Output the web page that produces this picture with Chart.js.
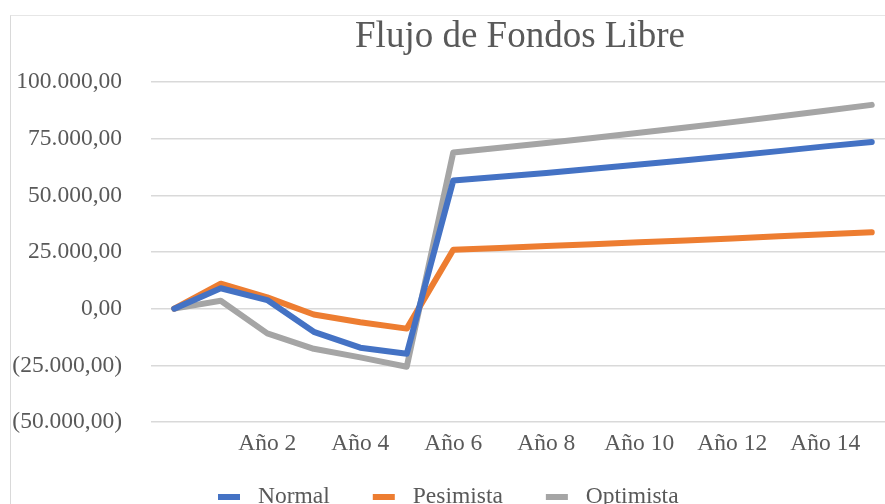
<!DOCTYPE html>
<html lang="es">
<head>
<meta charset="UTF-8">
<title>Flujo de Fondos Libre</title>
<script src="https://cdn.jsdelivr.net/npm/chart.js@4.4.1/dist/chart.umd.min.js"></script>
<style>
  html, body { margin: 0; padding: 0; background: #fff; overflow: hidden; }
  .frame {
    position: absolute; left: 10px; top: 15px;
    width: 1022px; height: 520px;
    border-left: 1px solid #d9d9d9; border-top: 1px solid #e6e6e6;
  }
  canvas { display: block; }
</style>
</head>
<body>
<div class="frame">
  <canvas id="chart" width="1022" height="520"></canvas>
</div>
<script>
  const years = ['', 'Año 1', 'Año 2', 'Año 3', 'Año 4', 'Año 5', 'Año 6', 'Año 7',
    'Año 8', 'Año 9', 'Año 10', 'Año 11', 'Año 12', 'Año 13', 'Año 14', 'Año 15'];

  const normal = [0, 9000, 3800, -10200, -17200, -19900, 56500, 58200, 59900,
    61700, 63600, 65500, 67500, 69500, 71600, 73500];
  const pesimista = [0, 11000, 5000, -2600, -6000, -8800, 26000, 26800, 27600,
    28400, 29300, 30100, 31000, 31900, 32800, 33700];
  const optimista = [0, 3500, -10900, -17700, -21500, -25600, 68900, 71000, 73100,
    75300, 77600, 79900, 82300, 84800, 87300, 89900];

  const chartTitle = 'Flujo de Fondos Libre';
  const serif = '"Liberation Serif", "Times New Roman", serif';
  const grey = '#595959';

  // 100.000,00 style, negatives in brackets like the excel sheet
  function fmt(v) {
    const parts = Math.abs(v).toFixed(2).split('.');
    const t = parts[0].replace(/\B(?=(\d{3})+(?!\d))/g, '.') + ',' + parts[1];
    return v < 0 ? '(' + t + ')' : t;
  }

  const line = {
    borderWidth: 6,
    pointRadius: 0,
    tension: 0,
    borderCapStyle: 'round',
    borderJoinStyle: 'round'
  };

  // title and legend are off-centre in the original, so draw them by hand
  const excelText = {
    id: 'excelText',
    afterDraw(chart) {
      const ctx = chart.ctx;
      ctx.save();
      ctx.textBaseline = 'alphabetic';

      ctx.font = '37px ' + serif;
      ctx.fillStyle = grey;
      ctx.textAlign = 'center';
      ctx.fillText(chartTitle, 509, 31);

      ctx.font = '23.5px ' + serif;
      ctx.textAlign = 'left';
      let x = 207;
      const y = 481;
      chart.data.datasets.forEach((ds) => {
        ctx.fillStyle = ds.borderColor;
        ctx.fillRect(x, y - 3, 22, 6);
        x += 40;
        ctx.fillStyle = grey;
        ctx.fillText(ds.label, x, y + 6);
        x += ctx.measureText(ds.label).width + 43;
      });
      ctx.restore();
    }
  };

  new Chart(document.getElementById('chart'), {
    type: 'line',
    data: {
      labels: years,
      datasets: [
        { label: 'Normal', data: normal, borderColor: '#4472c4', ...line },
        { label: 'Pesimista', data: pesimista, borderColor: '#ed7d31', ...line },
        { label: 'Optimista', data: optimista, borderColor: '#a5a5a5', ...line }
      ]
    },
    options: {
      responsive: false,
      animation: false,
      layout: { padding: { left: 0, right: 138, top: 66, bottom: 0 } },
      plugins: {
        legend: { display: false },
        tooltip: { enabled: false },
        title: { display: false }
      },
      scales: {
        x: {
          offset: true,
          grid: { display: false },
          border: { display: false },
          afterFit(scale) { scale.height = 114; },
          ticks: {
            autoSkip: false,
            maxRotation: 0,
            padding: 0,
            color: grey,
            font: { family: serif, size: 23.5 },
            callback: function (val, i) {
              return i % 2 === 0 ? this.getLabelForValue(val) : '';
            }
          }
        },
        y: {
          min: -50000,
          max: 100000,
          afterFit(scale) { scale.width = 140; },
          grid: { color: '#d9d9d9', lineWidth: 1.5, drawTicks: false },
          border: { display: false },
          ticks: {
            stepSize: 25000,
            padding: 29,
            color: grey,
            font: { family: serif, size: 23.5 },
            callback: (v) => fmt(v)
          }
        }
      }
    },
    plugins: [excelText]
  });
</script>
</body>
</html>
